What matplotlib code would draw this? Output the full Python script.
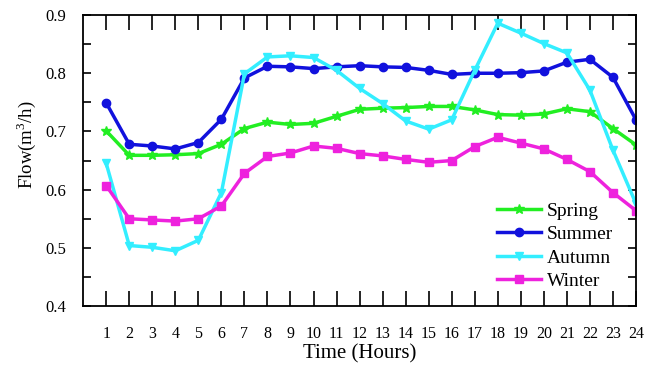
import numpy as np
import matplotlib
matplotlib.use("Agg")
import matplotlib.pyplot as plt

plt.rcParams['font.family'] = ['Liberation Serif', 'DejaVu Serif']
plt.rcParams['mathtext.fontset'] = 'custom'
plt.rcParams['mathtext.rm'] = 'Liberation Serif'

hours = list(range(1, 25))

spring = [0.701, 0.659, 0.659, 0.660, 0.662, 0.678, 0.705, 0.716, 0.712, 0.714, 0.726, 0.738,
          0.740, 0.741, 0.743, 0.743, 0.737, 0.729, 0.728, 0.730, 0.739, 0.734, 0.705, 0.677]
summer = [0.749, 0.678, 0.675, 0.670, 0.681, 0.721, 0.792, 0.812, 0.811, 0.808, 0.811, 0.813,
          0.811, 0.810, 0.805, 0.798, 0.800, 0.800, 0.801, 0.804, 0.819, 0.824, 0.793, 0.720]
autumn = [0.645, 0.504, 0.501, 0.495, 0.513, 0.595, 0.799, 0.828, 0.830, 0.827, 0.805, 0.774,
          0.748, 0.718, 0.704, 0.720, 0.805, 0.886, 0.869, 0.851, 0.835, 0.771, 0.668, 0.576]
winter = [0.607, 0.550, 0.548, 0.546, 0.550, 0.572, 0.628, 0.657, 0.663, 0.675, 0.671, 0.662,
          0.658, 0.652, 0.647, 0.650, 0.674, 0.690, 0.680, 0.670, 0.652, 0.631, 0.595, 0.564]

series = [
    ("Spring", spring, "#22ee22", "*", 7),
    ("Summer", summer, "#1111dd", "o", 6),
    ("Autumn", autumn, "#33eeff", "v", 6),
    ("Winter", winter, "#ee22dd", "s", 5.5),
]

fig = plt.figure(figsize=(6.45, 3.67), dpi=100)
ax = fig.add_axes([0.129, 0.166, 0.857, 0.793])

for name, vals, col, mk, ms in series:
    ax.plot(hours, vals, color=col, marker=mk, markersize=ms, linewidth=2.5, label=name)

ax.set_xlim(0, 24)
ax.set_ylim(0.4, 0.9)
ax.set_xticks(hours)
ax.set_xticklabels([str(h) for h in hours], fontsize=11.5)
ax.set_yticks(np.arange(0.4, 0.91, 0.1))
ax.set_yticklabels(["%.1f" % v for v in np.arange(0.4, 0.91, 0.1)], fontsize=12)
ax.set_yticks(np.arange(0.45, 0.9, 0.1), minor=True)
ax.tick_params(axis='x', which='major', direction='in', top=True, length=11, width=1.2, pad=14)
ax.tick_params(axis='y', which='both', direction='in', right=True, length=6, width=1.2, pad=12)
for sp in ax.spines.values():
    sp.set_linewidth(1.3)

ax.set_xlabel("Time (Hours)", fontsize=15, labelpad=2)
ax.set_ylabel("Flow(m$^3$/h)", fontsize=13.5)
ax.yaxis.set_label_coords(-0.082, 0.553)

ax.legend(loc='upper left', frameon=False, fontsize=14, handlelength=2.3,
          handletextpad=0.26, labelspacing=0.3, borderaxespad=0,
          bbox_to_anchor=(0.734, 0.384))

fig.savefig("out.png", dpi=100)
